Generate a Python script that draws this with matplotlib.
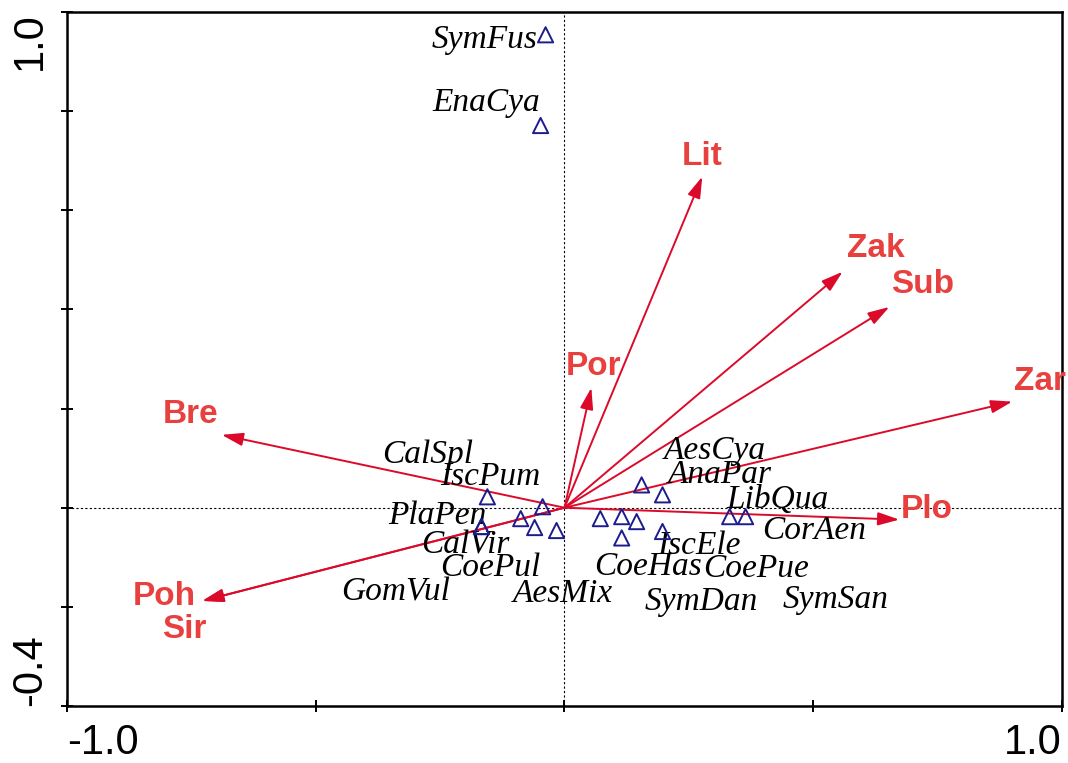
import matplotlib
matplotlib.use('Agg')
import matplotlib.pyplot as plt

# environmental variables: arrow tips and label positions
env_names = ['Lit', 'Zak', 'Sub', 'Zar', 'Plo', 'Por', 'Bre', 'Poh', 'Sir']
env_x = [0.277, 0.559, 0.653, 0.900, 0.673, 0.054, -0.689, -0.728, -0.728]
env_y = [0.668, 0.476, 0.405, 0.214, -0.024, 0.242, 0.147, -0.188, -0.188]
env_lx = [0.277, 0.625, 0.719, 0.955, 0.728, 0.058, -0.752, -0.805, -0.765]
env_ly = [0.709, 0.522, 0.450, 0.255, -0.004, 0.284, 0.188, -0.180, -0.246]

# species scores and label positions
sp_names = ['SymFus', 'EnaCya', 'CalSpl', 'IscPum', 'PlaPen', 'CalVir', 'CoePul',
            'GomVul', 'AesMix', 'AesCya', 'AnaPar', 'LibQua', 'CorAen', 'IscEle',
            'CoeHas', 'CoePue', 'SymDan', 'SymSan']
sp_x = [-0.038, -0.048, -0.155, -0.044, -0.167, -0.088, -0.060,
        -0.167, -0.016, 0.155, 0.197, 0.332, 0.364, 0.197,
        0.115, 0.145, 0.072, 0.115]
sp_y = [0.954, 0.771, 0.022, 0.002, -0.038, -0.022, -0.040,
        -0.038, -0.046, 0.046, 0.026, -0.018, -0.018, -0.048,
        -0.061, -0.028, -0.022, -0.018]
sp_lx = [-0.161, -0.157, -0.276, -0.149, -0.256, -0.199, -0.149,
         -0.340, -0.004, 0.302, 0.312, 0.428, 0.502, 0.270,
         0.167, 0.386, 0.274, 0.545]
sp_ly = [0.944, 0.817, 0.107, 0.063, -0.016, -0.075, -0.121,
         -0.170, -0.174, 0.115, 0.067, 0.016, -0.046, -0.077,
         -0.119, -0.123, -0.190, -0.186]

fig = plt.figure(figsize=(10.68, 7.63), dpi=100)
ax = fig.add_axes([0.0627, 0.0747, 0.9317, 0.9096])
ax.set_xlim(-1.0, 1.0)
ax.set_ylim(-0.4, 1.0)

ax.axhline(0, color='black', lw=0.8, ls=(0, (2, 2)), zorder=1)
ax.axvline(0, color='black', lw=0.8, ls=(0, (2, 2)), zorder=1)

for i in range(len(env_names)):
    ax.annotate('', xy=(env_x[i], env_y[i]), xytext=(0, 0),
                arrowprops=dict(arrowstyle='-|>,head_length=1.3,head_width=0.4',
                                color='#DC0A2A', lw=1.4, shrinkA=0, shrinkB=0),
                zorder=3)
    ax.text(env_lx[i], env_ly[i], env_names[i], color='#E8403E', fontsize=24,
            fontweight='bold', family='Liberation Sans', ha='center', va='center', zorder=4)

ax.scatter(sp_x, sp_y, marker='^', s=120, facecolors='none', edgecolors='#1C1C8C',
           linewidths=1.4, zorder=5)
for i in range(len(sp_names)):
    ax.text(sp_lx[i], sp_ly[i], sp_names[i], fontsize=24, style='italic',
            family='Liberation Serif', ha='center', va='center', zorder=4)

for s in ax.spines.values():
    s.set_linewidth(1.8)

ax.set_xticks([-1.0, -0.5, 0.0, 0.5, 1.0])
ax.set_xticklabels(['-1.0', '', '', '', '1.0'])
ax.set_yticks([-0.4, -0.2, 0.0, 0.2, 0.4, 0.6, 0.8, 1.0])
ax.set_yticklabels(['-0.4', '', '', '', '', '', '', '1.0'])
ax.tick_params(axis='both', direction='inout', length=8, width=1.4,
               labelsize=30, pad=8)
for lab in ax.get_yticklabels():
    lab.set_rotation(90)
    lab.set_family('Liberation Sans')
for lab in ax.get_xticklabels():
    lab.set_family('Liberation Sans')
ylabs = ax.get_yticklabels()
ylabs[0].set_va('bottom')
ylabs[-1].set_va('top')
xlabs = ax.get_xticklabels()
xlabs[0].set_ha('left')
xlabs[-1].set_ha('right')

fig.savefig('out.png', dpi=100)
